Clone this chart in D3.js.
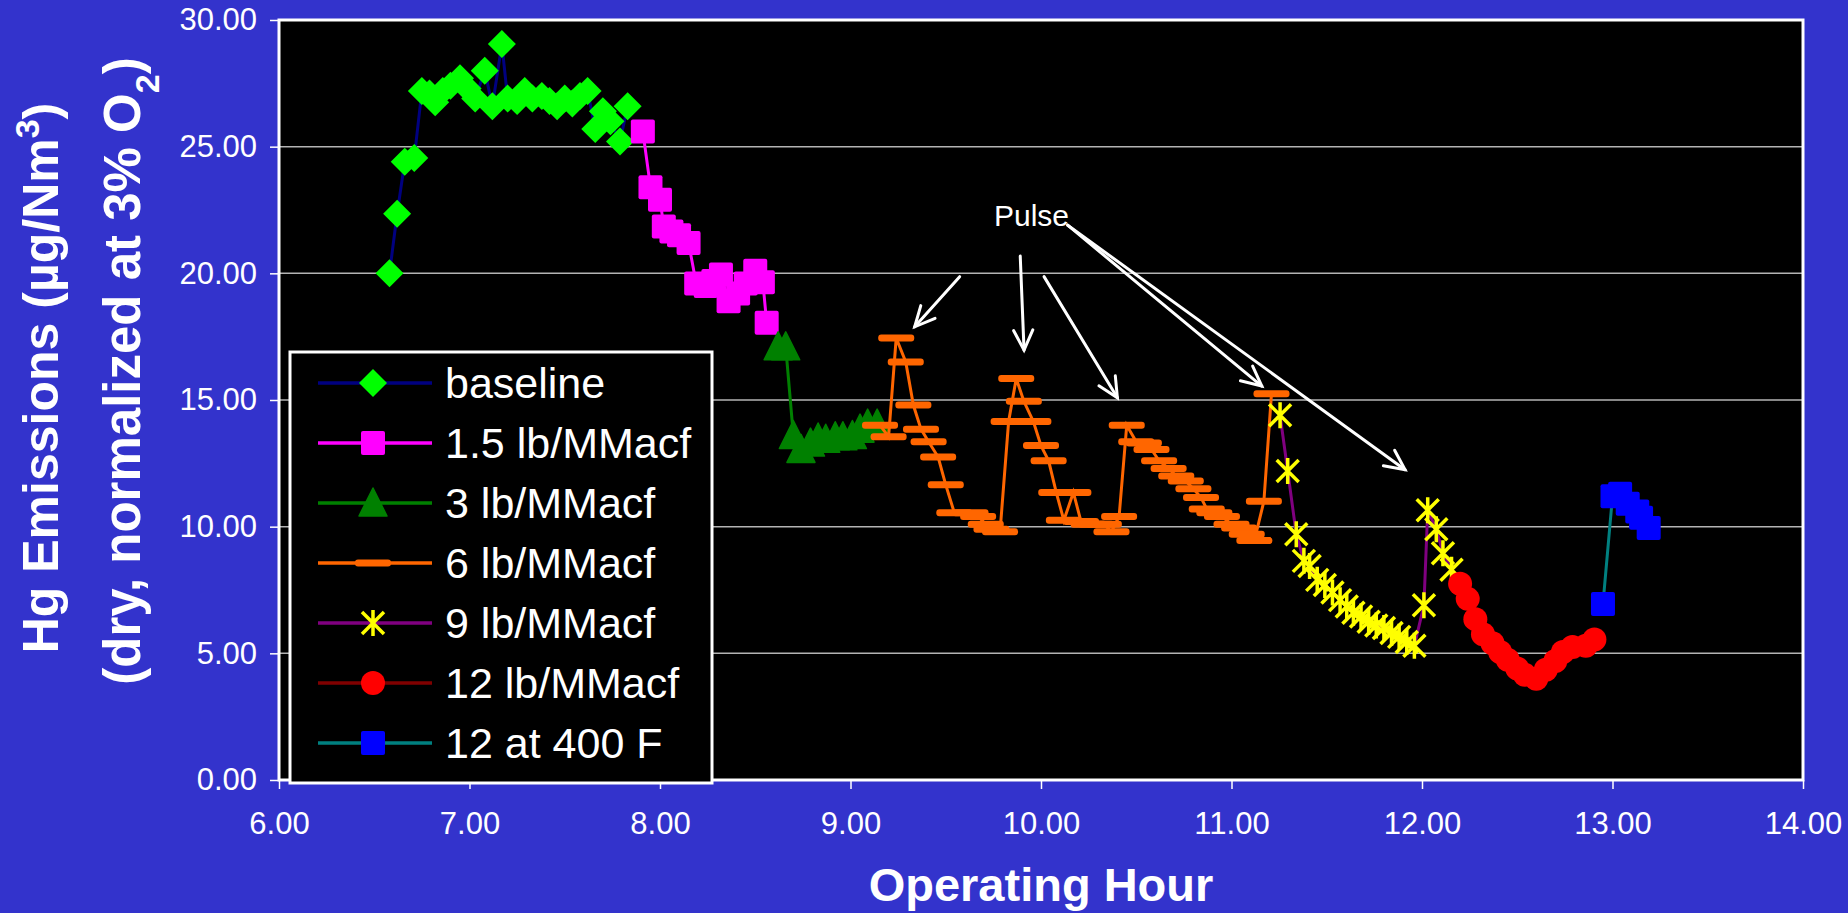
<!DOCTYPE html>
<html>
<head>
<meta charset="utf-8">
<script src="https://cdn.jsdelivr.net/npm/d3@7"></script>
<style>
body { margin: 0; background: #3333cc; }
svg { display: block; }
text { font-family: Arial, "Liberation Sans", sans-serif; fill: #fff; }
</style>
</head>
<body>
<svg width="1848" height="913"></svg>
<script>
// hour, Hg value
var baseline = [[6.58,20.0],[6.62,22.35],[6.66,24.4],[6.71,24.55],[6.75,27.2],[6.79,27.1],[6.82,26.75],
  [6.86,27.2],[6.90,27.4],[6.95,27.7],[6.99,27.3],[7.03,26.9],[7.08,28.0],[7.12,26.6],[7.17,29.05],
  [7.20,26.9],[7.25,26.8],[7.29,27.2],[7.33,26.9],[7.38,27.0],[7.42,26.8],[7.46,26.6],[7.50,26.9],
  [7.54,26.7],[7.58,27.0],[7.62,27.2],[7.66,25.7],[7.70,26.4],[7.74,26.0],[7.79,25.2],[7.83,26.6]];
var lb15 = [[7.91,25.6],[7.95,23.4],[8.00,22.9],[8.02,21.85],[8.06,21.65],[8.10,21.5],[8.15,21.2],
  [8.19,19.6],[8.24,19.5],[8.28,19.7],[8.32,19.95],[8.36,18.9],[8.41,19.2],[8.45,19.6],[8.50,20.1],
  [8.54,19.65],[8.56,18.05]];
var lb3 = [[8.62,17.1],[8.66,17.1],[8.70,13.6],[8.74,13.05],[8.79,13.3],[8.83,13.5],[8.87,13.45],
  [8.92,13.55],[8.96,13.55],[9.01,13.6],[9.05,13.85],[9.09,14.05],[9.14,14.05]];
var lb6 = [[9.155,14.0],[9.20,13.55],[9.24,17.45],[9.29,16.5],[9.33,14.8],[9.37,13.85],[9.41,13.35],
  [9.46,12.75],[9.50,11.65],[9.545,10.55],[9.63,10.55],[9.67,10.4],[9.71,10.1],[9.74,9.9],[9.785,9.8],
  [9.83,14.15],[9.87,15.85],[9.91,14.95],[9.96,14.15],[10.00,13.2],[10.04,12.6],[10.08,11.35],
  [10.12,10.25],[10.17,11.35],[10.21,10.2],[10.25,10.1],[10.29,10.1],[10.33,10.1],[10.37,9.8],
  [10.41,10.4],[10.45,14.0],[10.50,13.35],[10.54,13.3],[10.58,13.05],[10.62,12.6],[10.67,12.3],
  [10.71,12.0],[10.76,11.8],[10.80,11.5],[10.84,11.15],[10.87,10.7],[10.91,10.55],[10.95,10.4],
  [11.00,10.1],[11.04,9.95],[11.08,9.7],[11.12,9.45],[11.17,11.0],[11.21,15.25]];
var lb9 = [[11.255,14.4],[11.295,12.2],[11.34,9.7],[11.38,8.65],[11.41,8.45],[11.45,7.9],[11.49,7.7],
  [11.53,7.4],[11.57,7.1],[11.605,6.85],[11.64,6.6],[11.68,6.45],[11.72,6.25],[11.76,6.1],[11.80,6.0],
  [11.84,5.8],[11.88,5.65],[11.92,5.45],[11.96,5.3],[12.01,6.9],[12.03,10.65],[12.075,9.9],
  [12.11,8.95],[12.155,8.3]];
var lb12 = [[12.20,7.75],[12.24,7.15],[12.28,6.35],[12.32,5.75],[12.37,5.4],[12.41,5.05],[12.45,4.75],
  [12.50,4.4],[12.54,4.15],[12.60,4.0],[12.65,4.35],[12.70,4.7],[12.74,5.05],[12.79,5.25],
  [12.86,5.3],[12.905,5.55]];
var at400 = [[12.95,6.95],[13.00,11.2],[13.04,11.3],[13.08,10.9],[13.13,10.6],[13.15,10.35],[13.19,9.95]];

var seriesNames = ["baseline", "1.5 lb/MMacf", "3 lb/MMacf", "6 lb/MMacf", "9 lb/MMacf", "12 lb/MMacf", "12 at 400 F"];
var xTicks = [6, 7, 8, 9, 10, 11, 12, 13, 14];
var yTicks = [0, 5, 10, 15, 20, 25, 30];

// "Pulse" label and its arrows, in hour / value units
var pulseLabel = [9.95, 21.87];
var pulseArrows = [
  [[9.573,19.87],[9.337,17.89]],
  [[9.891,20.68],[9.911,16.97]],
  [[10.016,19.87],[10.401,15.09]],
  [[10.14,21.9],[11.159,15.55]],
  [[10.14,21.9],[11.911,12.25]]
];

var series = [
  {data: baseline, line: "#000080", fill: "#00ff00", marker: "diamond"},
  {data: lb15, line: "#ff00ff", fill: "#ff00ff", marker: "square"},
  {data: lb3, line: "#008000", fill: "#008000", marker: "triangle"},
  {data: lb6, line: "#ff6600", fill: "#ff6600", marker: "dash"},
  {data: lb9, line: "#800080", fill: "#ffff00", marker: "star"},
  {data: lb12, line: "#800000", fill: "#ff0000", marker: "circle"},
  {data: at400, line: "#008080", fill: "#0000ff", marker: "square"}
];

var svg = d3.select("svg");
// plot box (don't call it "top", that's window.top)
var pLeft = 279, pRight = 1803, pTop = 20, pBottom = 780;

var x = d3.scaleLinear().domain([6, 14]).range([pLeft, pRight]);
var y = d3.scaleLinear().domain([0, 30]).range([pBottom, pTop]);

svg.append("rect").attr("width", 1848).attr("height", 913).attr("fill", "#3333cc");
svg.append("rect").attr("x", pLeft).attr("y", pTop).attr("width", pRight - pLeft).attr("height", pBottom - pTop).attr("fill", "#000");

// gridlines
svg.append("g").selectAll("line")
  .data(yTicks.filter(function(d) { return d > 0 && d < 30; }))
  .enter().append("line")
    .attr("x1", pLeft).attr("x2", pRight)
    .attr("y1", function(d) { return y(d); })
    .attr("y2", function(d) { return y(d); })
    .attr("stroke", "#b4b4b4").attr("stroke-width", 1.5);

function drawMarker(g, type, color) {
  switch (type) {
  case "diamond":
    g.append("path").attr("d", "M0,-14L14,0L0,14L-14,0Z").attr("fill", color);
    break;
  case "square":
    g.append("rect").attr("x", -12).attr("y", -12).attr("width", 24).attr("height", 24).attr("rx", 2).attr("fill", color);
    break;
  case "triangle":
    g.append("path").attr("d", "M0,-15L14,13L-14,13Z").attr("fill", color)
      .attr("stroke", color).attr("stroke-width", 1.5).attr("stroke-linejoin", "round");
    break;
  case "dash":
    g.append("rect").attr("x", -18).attr("y", -3.5).attr("width", 36).attr("height", 7).attr("rx", 3).attr("fill", color);
    break;
  case "star":
    g.append("path").attr("d", "M-11,-11L11,11M11,-11L-11,11M0,-13L0,13")
      .attr("stroke", color).attr("stroke-width", 3.5).attr("fill", "none");
    break;
  case "circle":
    g.append("circle").attr("r", 12).attr("fill", color);
    break;
  }
}

var line = d3.line()
  .x(function(d) { return x(d[0]); })
  .y(function(d) { return y(d[1]); });

var plot = svg.append("g");
series.forEach(function(s) {
  plot.append("path")
    .datum(s.data)
    .attr("d", line)
    .attr("fill", "none")
    .attr("stroke", s.line)
    .attr("stroke-width", 3);
  plot.append("g").selectAll("g")
    .data(s.data)
    .enter().append("g")
      .attr("transform", function(d) { return "translate(" + x(d[0]) + "," + y(d[1]) + ")"; })
      .each(function() { drawMarker(d3.select(this), s.marker, s.fill); });
});

// Pulse annotation
svg.append("text")
  .attr("x", x(pulseLabel[0])).attr("y", y(pulseLabel[1]))
  .attr("text-anchor", "middle")
  .style("font-size", "30px")
  .text("Pulse");

var ann = svg.append("g").attr("stroke", "#fff").attr("stroke-width", 3).attr("fill", "none").attr("stroke-linecap", "round");
pulseArrows.forEach(function(a) {
  var x0 = x(a[0][0]), y0 = y(a[0][1]), x1 = x(a[1][0]), y1 = y(a[1][1]);
  var ang = Math.atan2(y1 - y0, x1 - x0), len = 22, spread = 0.45;
  ann.append("line").attr("x1", x0).attr("y1", y0).attr("x2", x1).attr("y2", y1);
  ann.append("path").attr("d",
    "M" + (x1 - len * Math.cos(ang - spread)) + "," + (y1 - len * Math.sin(ang - spread)) +
    "L" + x1 + "," + y1 +
    "L" + (x1 - len * Math.cos(ang + spread)) + "," + (y1 - len * Math.sin(ang + spread)));
});

// frame
svg.append("rect").attr("x", pLeft).attr("y", pTop).attr("width", pRight - pLeft).attr("height", pBottom - pTop)
  .attr("fill", "none").attr("stroke", "#fff").attr("stroke-width", 3);

// axes
var yAxis = svg.append("g")
  .attr("transform", "translate(" + pLeft + ",0)")
  .call(d3.axisLeft(y).tickValues(yTicks).tickSize(9).tickPadding(13).tickFormat(d3.format(".2f")));
var xAxis = svg.append("g")
  .attr("transform", "translate(0," + pBottom + ")")
  .call(d3.axisBottom(x).tickValues(xTicks).tickSize(9).tickPadding(23).tickFormat(d3.format(".2f")));
[xAxis, yAxis].forEach(function(a) {
  a.select(".domain").remove();
  a.selectAll("line").attr("stroke", "#fff").attr("stroke-width", 1.5);
  a.selectAll("text").attr("fill", "#fff").style("font-size", "31px")
    .style("font-family", "Arial, 'Liberation Sans', sans-serif");
});

// legend
var legend = svg.append("g");
legend.append("rect").attr("x", 290).attr("y", 352).attr("width", 422).attr("height", 431)
  .attr("fill", "#000").attr("stroke", "#fff").attr("stroke-width", 3);
series.forEach(function(s, i) {
  var ly = 383 + i * 60;
  legend.append("line").attr("x1", 318).attr("x2", 432).attr("y1", ly).attr("y2", ly)
    .attr("stroke", s.line).attr("stroke-width", 3.5);
  var m = legend.append("g").attr("transform", "translate(373," + ly + ")");
  drawMarker(m, s.marker, s.fill);
  legend.append("text").attr("x", 445).attr("y", ly).attr("dy", "0.36em")
    .style("font-size", "43px").text(seriesNames[i]);
});

// axis titles
svg.append("text")
  .attr("x", (pLeft + pRight) / 2).attr("y", 901)
  .attr("text-anchor", "middle")
  .style("font-size", "47px").style("font-weight", "bold")
  .text("Operating Hour");

var yt1 = svg.append("text")
  .attr("transform", "translate(58,378) rotate(-90)")
  .attr("text-anchor", "middle")
  .style("font-size", "50px").style("font-weight", "bold");
yt1.append("tspan").text("Hg Emissions (\u00b5g/Nm");
yt1.append("tspan").attr("baseline-shift", "super").style("font-size", "34px").text("3");
yt1.append("tspan").text(")");

var yt2 = svg.append("text")
  .attr("transform", "translate(140,371) rotate(-90)")
  .attr("text-anchor", "middle")
  .style("font-size", "51px").style("font-weight", "bold");
yt2.append("tspan").text("(dry, normalized at 3% O");
yt2.append("tspan").attr("baseline-shift", "sub").style("font-size", "34px").text("2");
yt2.append("tspan").text(")");
</script>
</body>
</html>
